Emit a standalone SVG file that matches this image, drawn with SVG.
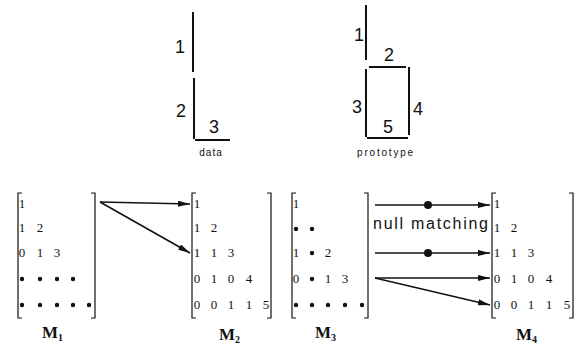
<svg xmlns="http://www.w3.org/2000/svg" width="586" height="359" viewBox="0 0 586 359">
<style>
.bg{fill:#fff}
.seg{stroke:#111;stroke-width:2;fill:none;stroke-linecap:butt}
.lbl{font-family:"Liberation Sans",Arial,sans-serif;font-size:18px;fill:#111;text-anchor:middle}
.cap{font-family:"Liberation Sans",Arial,sans-serif;font-size:10px;fill:#111;text-anchor:middle}
.br{stroke:#111;stroke-width:1.2;fill:none}
.m{font-family:"Liberation Serif","Times New Roman",serif;font-size:13px;fill:#111;text-anchor:middle}
.dot{fill:#111}
.mname{font-family:"Liberation Serif","Times New Roman",serif;font-size:17px;font-weight:bold;fill:#111}
.sub{font-size:10px}
.arr{stroke:#111;stroke-width:1.6;fill:none;marker-end:url(#ah)}
.nm{font-family:"Liberation Sans",Arial,sans-serif;font-size:16px;fill:#111}
</style>
<defs>
<marker id="ah" viewBox="0 0 12 6" refX="12" refY="3" markerWidth="12" markerHeight="6" markerUnits="userSpaceOnUse" orient="auto">
<path d="M0,0 L12,3 L0,6 Z" fill="#111"/>
</marker>
</defs>
<rect class="bg" x="0" y="0" width="586" height="359"/>

<g id="data">
<line class="seg" x1="193" y1="12" x2="193" y2="72"/>
<line class="seg" x1="194" y1="78" x2="194" y2="139"/>
<line class="seg" x1="195" y1="140" x2="230" y2="140"/>
<text class="lbl" x="180" y="53">1</text>
<text class="lbl" x="181" y="117">2</text>
<text class="lbl" x="214" y="133">3</text>
<text class="cap" x="211" y="156" letter-spacing="1">data</text>
</g>

<g id="prototype">
<line class="seg" x1="366" y1="5" x2="366" y2="60"/>
<line class="seg" x1="369" y1="67" x2="406" y2="67"/>
<line class="seg" x1="366" y1="69" x2="366" y2="137"/>
<line class="seg" x1="409" y1="67" x2="409" y2="135"/>
<line class="seg" x1="367" y1="138" x2="408" y2="138"/>
<text class="lbl" x="359" y="41">1</text>
<text class="lbl" x="389" y="61">2</text>
<text class="lbl" x="357" y="113">3</text>
<text class="lbl" x="418" y="115">4</text>
<text class="lbl" x="388" y="133">5</text>
<text class="cap" x="386" y="156" letter-spacing="1.8">prototype</text>
</g>

<g id="M1">
<path class="br" d="M22,193 H18 V318 H22"/>
<path class="br" d="M91,193 H95 V318 H91"/>
<text class="m" x="22" y="208">1</text>
<text class="m" x="22" y="232">1</text><text class="m" x="40" y="232">2</text>
<text class="m" x="22" y="257">0</text><text class="m" x="40" y="257">1</text><text class="m" x="57" y="257">3</text>
<circle class="dot" cx="22" cy="279" r="2.2"/><circle class="dot" cx="40" cy="279" r="2.2"/><circle class="dot" cx="57" cy="279" r="2.2"/><circle class="dot" cx="73" cy="279" r="2.2"/>
<circle class="dot" cx="22" cy="305" r="2.2"/><circle class="dot" cx="40" cy="305" r="2.2"/><circle class="dot" cx="57" cy="305" r="2.2"/><circle class="dot" cx="73" cy="305" r="2.2"/><circle class="dot" cx="89" cy="305" r="2.2"/>
<text class="mname" x="42" y="338">M<tspan class="sub" dy="3">1</tspan></text>
</g>

<g id="M2">
<path class="br" d="M196,193 H192 V318 H196"/>
<path class="br" d="M267,193 H271 V318 H267"/>
<text class="m" x="197" y="208">1</text>
<text class="m" x="197" y="232">1</text><text class="m" x="214" y="232">2</text>
<text class="m" x="197" y="257">1</text><text class="m" x="214" y="257">1</text><text class="m" x="231" y="257">3</text>
<text class="m" x="197" y="283">0</text><text class="m" x="214" y="283">1</text><text class="m" x="231" y="283">0</text><text class="m" x="249" y="283">4</text>
<text class="m" x="197" y="309">0</text><text class="m" x="214" y="309">0</text><text class="m" x="231" y="309">1</text><text class="m" x="249" y="309">1</text><text class="m" x="266" y="309">5</text>
<text class="mname" x="219" y="340">M<tspan class="sub" dy="3">2</tspan></text>
</g>

<g id="M3">
<path class="br" d="M296,193 H292 V318 H296"/>
<path class="br" d="M364,193 H368 V318 H364"/>
<text class="m" x="296" y="208">1</text>
<circle class="dot" cx="296" cy="229" r="2.2"/><circle class="dot" cx="312" cy="229" r="2.2"/>
<text class="m" x="296" y="257">1</text><circle class="dot" cx="312" cy="253" r="2.2"/><text class="m" x="328" y="257">2</text>
<text class="m" x="296" y="283">0</text><circle class="dot" cx="312" cy="279" r="2.2"/><text class="m" x="328" y="283">1</text><text class="m" x="345" y="283">3</text>
<circle class="dot" cx="296" cy="305" r="2.2"/><circle class="dot" cx="312" cy="305" r="2.2"/><circle class="dot" cx="328" cy="305" r="2.2"/><circle class="dot" cx="345" cy="305" r="2.2"/><circle class="dot" cx="362" cy="305" r="2.2"/>
<text class="mname" x="315" y="338">M<tspan class="sub" dy="3">3</tspan></text>
</g>

<g id="M4">
<path class="br" d="M496,193 H492 V318 H496"/>
<path class="br" d="M569,193 H573 V318 H569"/>
<text class="m" x="497" y="208">1</text>
<text class="m" x="497" y="232">1</text><text class="m" x="514" y="232">2</text>
<text class="m" x="497" y="257">1</text><text class="m" x="514" y="257">1</text><text class="m" x="531" y="257">3</text>
<text class="m" x="497" y="283">0</text><text class="m" x="514" y="283">1</text><text class="m" x="531" y="283">0</text><text class="m" x="549" y="283">4</text>
<text class="m" x="497" y="309">0</text><text class="m" x="514" y="309">0</text><text class="m" x="531" y="309">1</text><text class="m" x="549" y="309">1</text><text class="m" x="567" y="309">5</text>
<text class="mname" x="516" y="340">M<tspan class="sub" dy="3">4</tspan></text>
</g>

<g id="connectors">
<line class="arr" x1="100" y1="202" x2="190" y2="204"/>
<line class="arr" x1="100" y1="202" x2="190" y2="253"/>
<line class="arr" x1="375" y1="205" x2="490" y2="205"/>
<circle class="dot" cx="428" cy="205" r="4"/>
<text class="nm" x="373" y="229" textLength="115" lengthAdjust="spacing">null matching</text>
<line class="arr" x1="375" y1="253" x2="490" y2="253"/>
<circle class="dot" cx="428" cy="253" r="4"/>
<line class="arr" x1="375" y1="278" x2="490" y2="278"/>
<line class="arr" x1="375" y1="278" x2="490" y2="305"/>
</g>
</svg>
